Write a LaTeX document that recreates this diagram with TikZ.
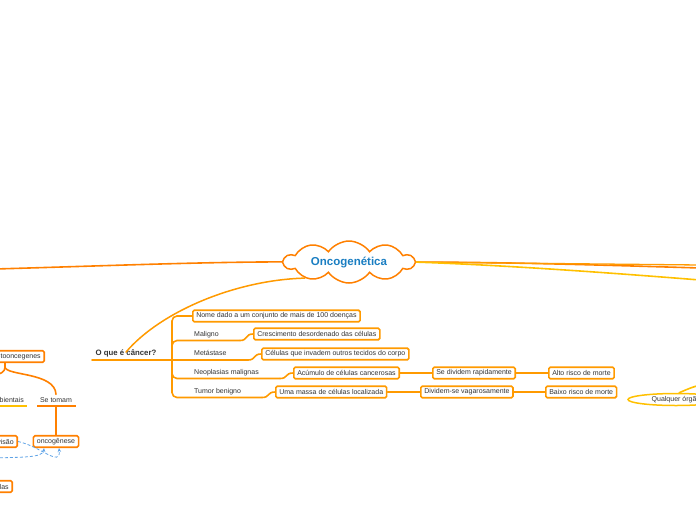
\documentclass[tikz,border=0pt]{standalone}
\usepackage{fontspec}
\setmainfont{Liberation Sans}
\usetikzlibrary{shapes.symbols,shapes.geometric,arrows.meta}
\definecolor{brOr}{HTML}{FF8000}
\definecolor{brAm}{HTML}{FF9A00}
\definecolor{brYe}{HTML}{FFC000}
\definecolor{txt}{HTML}{333333}
\definecolor{rootblue}{HTML}{1A7EC2}
\definecolor{dashblue}{HTML}{5FA3E6}
\begin{document}
\begin{tikzpicture}[x=1pt,y=-1pt,
  font=\fontsize{7}{8}\selectfont, text=txt,
  box/.style={draw=#1, line width=1.6pt, fill=white, rounded corners=1.5pt,
    inner xsep=3.5pt, inner ysep=0pt, minimum height=11.5pt},
  lbl/.style={inner sep=0pt, anchor=base west},
  ln/.style={draw=#1, line width=1.6pt, line cap=round},
  dsh/.style={draw=dashblue, line width=0.8pt, dash pattern=on 3pt off 2pt, -{Stealth[length=4pt,width=3.5pt]}}]
\path[use as bounding box] (0,0) rectangle (696,520);
\clip (0,0) rectangle (696,520);

% root
\node[cloud, cloud puffs=10, cloud puff arc=110, cloud ignores aspect, draw=brOr, line width=1.5pt,
  fill=white, minimum width=130pt, minimum height=42pt, inner sep=0pt,
  font=\fontsize{11.5}{13}\selectfont\bfseries, text=rootblue] (root) at (349,262) {Oncogenética};

% free ends
\coordinate (lft) at (-5,269);
\coordinate (r1) at (700,268);
\coordinate (r2) at (700,265);
\coordinate (r3) at (700,280);

\draw[ln=brOr] (root.west) .. controls (200,262) and (100,266) .. (lft);
\draw[ln=brOr] (root.east) .. controls (500,262) and (600,265) .. (r1);
\draw[draw=brAm, line width=1.3pt] (root.east) .. controls (500,263) and (600,264) .. (r2);
\draw[ln=brYe] (root.east) .. controls (500,265) and (600,272) .. (r3);

% O que e cancer
\node[inner sep=0pt, font=\fontsize{7.8}{9}\selectfont\bfseries] (q) at (126,353) {O que é câncer?};
\coordinate (qa) at (92,360);
\coordinate (qb) at (172,360);
\draw[ln=brAm, line width=1.5pt] (root.200) .. controls (235,280) and (160,312) .. ([yshift=-3pt]q.north);
\draw[ln=brAm] (qa) -- (qb);

% children
\node[box=brAm, anchor=west] (n1) at (192,316) {Nome dado a um conjunto de mais de 100 doenças};
\node[box=brAm, anchor=west] (c1) at (253,334) {Crescimento desordenado das células};
\node[box=brAm, anchor=west] (c2) at (261,354) {Células que invadem outros tecidos do corpo};
\node[box=brAm, anchor=west] (c3) at (293,373) {Acúmulo de células cancerosas};
\node[box=brAm, anchor=west] (c4) at (275,392) {Uma massa de células localizada};
\node[box=brAm, anchor=west] (s1) at (432,373) {Se dividem rapidamente};
\node[box=brAm, anchor=west] (a1) at (548,373) {Alto risco de morte};
\node[box=brAm, anchor=west] (s2) at (420,392) {Dividem-se vagarosamente};
\node[box=brAm, anchor=west] (a2) at (545,392) {Baixo risco de morte};

\node[lbl] (m1) at (194,336.5) {Maligno};
\node[lbl] (m2) at (194,355.5) {Metástase};
\node[lbl] (m3) at (194,374.5) {Neoplasias malignas};
\node[lbl] (m4) at (194,393.5) {Tumor benigno};

\coordinate (u1) at (240,340.5);
\coordinate (u2) at (248,360);
\coordinate (u3) at (280,378.5);
\coordinate (u4) at (262,397.5);

\draw[ln=brAm, rounded corners=5pt] (qb) |- (n1.west);
\draw[ln=brAm, rounded corners=5pt] (qb) |- (u1);
\draw[ln=brAm] (u1) .. controls (248,340.5) and (245,334) .. (c1.west);
\draw[ln=brAm] (qb) -- (u2);
\draw[ln=brAm] (u2) .. controls (256,360) and (253,354) .. (c2.west);
\draw[ln=brAm, rounded corners=5pt] (qb) |- (u3);
\draw[ln=brAm] (u3) .. controls (288,378.5) and (285,373) .. (c3.west);
\draw[ln=brAm, rounded corners=5pt] (qb) |- (u4);
\draw[ln=brAm] (u4) .. controls (270,397.5) and (267,392) .. (c4.west);

\draw[ln=brAm] (c3.east) -- (s1.west);
\draw[ln=brAm] (s1.east) -- (a1.west);
\draw[ln=brAm] (c4.east) -- (s2.west);
\draw[ln=brAm] (s2.east) -- (a2.west);

% right ellipse
\coordinate (qr) at (705,384);
\node[ellipse, draw=brYe, line width=1.5pt, fill=white, minimum width=96pt,
  minimum height=12pt, inner sep=0pt] (qo) at (676,399.5) {Qualquer órgão};
\draw[ln=brYe] (qo.65) .. controls (690,388) and (695,386) .. (qr);

% left side
\node[box=brOr, anchor=east] (p) at (45,356.5) {Protooncegenes};
\coordinate (ps) at (5,363);
\coordinate (pk) at (5,367);
\coordinate (lb) at (-8,376);
\node[inner sep=0pt, inner ysep=3pt] (st) at (56,400) {Se tomam};
\coordinate (stl) at (37,405.8);
\coordinate (stm) at (56,405.8);
\coordinate (str) at (76,405.8);
\node[inner sep=0pt, anchor=base east] (amb) at (24,402) {Ambientais};
\coordinate (aml) at (-3,405.8);
\coordinate (amr) at (27,405.8);

\draw[ln=brOr] (ps) -- (pk) .. controls (6,376) and (55,372) .. (st.north);
\draw[ln=brOr] (pk) .. controls (5,372) and (1,374) .. (lb);
\draw[draw=brOr, line width=1.8pt] (stl) -- (str);
\draw[draw=brYe, line width=1.8pt] (aml) -- (amr);

\node[box=brOr] (og) at (56,441.5) {oncogênese};
\node[box=brOr, anchor=east] (dv) at (18,441.5) {Divisão};
\node[box=brOr, anchor=east] (cl) at (13,486.5) {Células};
\draw[ln=brOr] (stm) -- (og.north);

\coordinate (dl) at (-5,458);
\draw[dsh] (dv.east) .. controls (40,446) and (61,468) .. ([xshift=3pt]og.south);
\draw[dsh] (dl) .. controls (20,457) and (43,458) .. ([xshift=-12pt]og.south);
\end{tikzpicture}
\end{document}
